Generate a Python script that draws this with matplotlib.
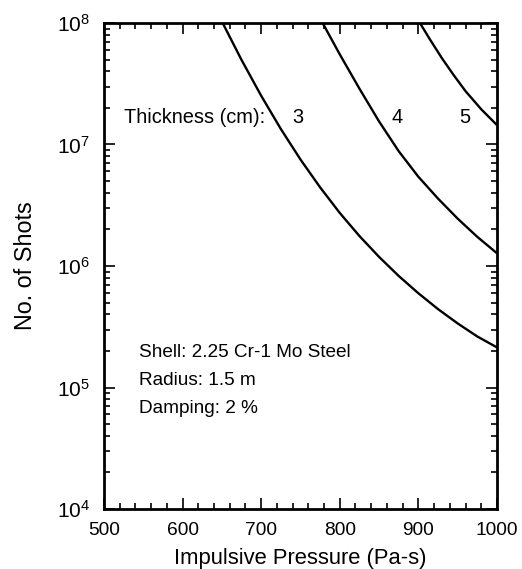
import numpy as np
import matplotlib
matplotlib.use('Agg')
import matplotlib.pyplot as plt
from matplotlib.ticker import LogLocator, MultipleLocator, NullFormatter

# Fatigue life curves: shots to failure vs. impulsive pressure, per shell thickness
pressure_3cm = [651, 675, 700, 725, 750, 775, 800, 825, 850, 875, 900, 925, 950, 975, 1000]
shots_3cm = [1.0e8, 4.97e7, 2.52e7, 1.343e7, 7.53e6, 4.44e6, 2.735e6, 1.766e6,
             1.189e6, 8.28e5, 5.97e5, 4.42e5, 3.37e5, 2.63e5, 2.14e5]

pressure_4cm = [778.2, 800, 825, 850, 875, 900, 925, 950, 975, 1000]
shots_4cm = [1.0e8, 5.52e7, 2.884e7, 1.549e7, 8.81e6, 5.43e6, 3.59e6, 2.455e6, 1.738e6, 1.274e6]

pressure_5cm = [902, 915, 930, 945, 960, 980, 1000]
shots_5cm = [1.0e8, 7.28e7, 5.13e7, 3.72e7, 2.75e7, 1.95e7, 1.445e7]

thickness_labels = ['3', '4', '5']
label_pressure = [747, 873, 959]
notes = ['Shell: 2.25 Cr-1 Mo Steel', 'Radius: 1.5 m', 'Damping: 2 %']

plt.rcParams['font.family'] = ['Liberation Sans', 'DejaVu Sans']
plt.rcParams['mathtext.fontset'] = 'custom'
plt.rcParams['mathtext.rm'] = 'Liberation Sans'

fig = plt.figure(figsize=(5.22, 5.69), dpi=100)
ax = fig.add_axes([0.1992, 0.1054, 0.7528, 0.8542])

for p, n in [(pressure_3cm, shots_3cm), (pressure_4cm, shots_4cm), (pressure_5cm, shots_5cm)]:
    ax.plot(p, n, color='black', linewidth=1.7, solid_capstyle='butt', solid_joinstyle='round')

ax.set_yscale('log')
ax.set_xlim(500, 1000)
ax.set_ylim(1e4, 1e8)

ax.xaxis.set_major_locator(MultipleLocator(100))
ax.xaxis.set_minor_locator(MultipleLocator(20))
ax.yaxis.set_major_locator(LogLocator(base=10, numticks=10))
ax.yaxis.set_minor_locator(LogLocator(base=10, subs=np.arange(2, 10), numticks=20))
ax.yaxis.set_minor_formatter(NullFormatter())

ax.tick_params(which='both', direction='in', top=True, right=True, width=1.2)
ax.tick_params(which='major', length=8)
ax.tick_params(which='minor', length=4)
ax.tick_params(axis='x', labelsize=13.8, pad=9)
ax.tick_params(axis='y', labelsize=15, pad=10)
for s in ax.spines.values():
    s.set_linewidth(2)

ax.set_xlabel('Impulsive Pressure (Pa-s)', fontsize=15.8, labelpad=7)
ax.set_ylabel('No. of Shots', fontsize=16.8, labelpad=14)

# thickness key along the top
key_y = 10 ** 7.22
ax.text(525, key_y, 'Thickness (cm):', fontsize=14.4, va='center', ha='left')
for lab, p in zip(thickness_labels, label_pressure):
    ax.text(p, key_y, lab, fontsize=14.4, va='center', ha='center')

for i, t in enumerate(notes):
    ax.text(545, 10 ** (5.29 - 0.23 * i), t, fontsize=13.7, va='center', ha='left')

fig.savefig('out.png', dpi=100)
